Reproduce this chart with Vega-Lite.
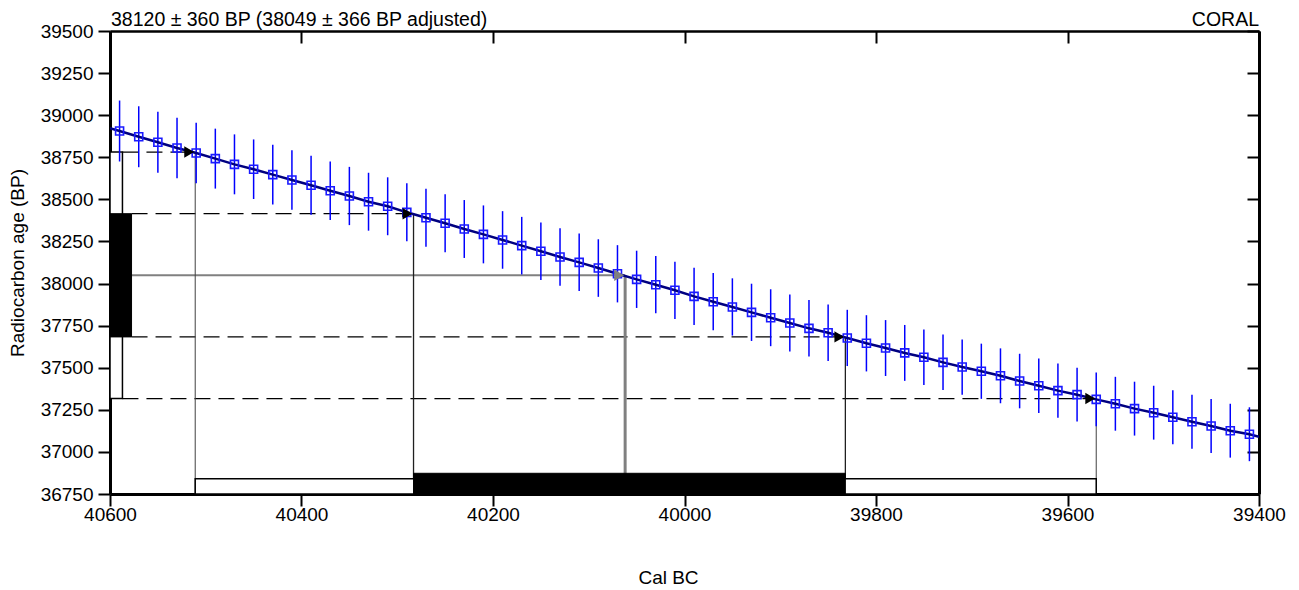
{
 "$schema": "https://vega.github.io/schema/vega-lite/v6.json",
 "width": 1149, "height": 463,
 "autosize": {"type": "none"},
 "padding": {"left": 110, "top": 31, "right": 40, "bottom": 96},
 "background": "white",
 "config": {
  "view": {"stroke": null},
  "font": "Liberation Sans",
  "axis": {"labelFont": "Liberation Sans", "labelFontSize": 19, "labelColor": "black", "titleFont": "Liberation Sans", "titleFontSize": 19, "titleFontWeight": "normal", "titleColor": "black", "tickColor": "black", "tickWidth": 2, "tickSize": 12, "domainColor": "black", "domainWidth": 3, "grid": false, "labelFlush": false, "labelOverlap": false}
 },
 "datasets": {
  "curve": [
   {"cal":40600,"age":38922},
   {"cal":40590,"age":38906,"err":181},{"cal":40570,"age":38872,"err":181},{"cal":40550,"age":38839,"err":181},{"cal":40530,"age":38805,"err":180},{"cal":40510,"age":38775,"err":180},
   {"cal":40490,"age":38742,"err":178},{"cal":40470,"age":38708,"err":178},{"cal":40450,"age":38679,"err":177},{"cal":40430,"age":38647,"err":177},{"cal":40410,"age":38615,"err":176},
   {"cal":40390,"age":38584,"err":175},{"cal":40370,"age":38551,"err":174},{"cal":40350,"age":38520,"err":173},{"cal":40330,"age":38486,"err":172},{"cal":40310,"age":38459,"err":172},
   {"cal":40290,"age":38423,"err":172},{"cal":40270,"age":38391,"err":172},{"cal":40250,"age":38358,"err":172},{"cal":40230,"age":38324,"err":172},{"cal":40210,"age":38292,"err":172},
   {"cal":40190,"age":38259,"err":171},{"cal":40170,"age":38225,"err":171},{"cal":40150,"age":38192,"err":171},{"cal":40130,"age":38158,"err":171},{"cal":40110,"age":38126,"err":171},
   {"cal":40090,"age":38092,"err":171},{"cal":40070,"age":38058,"err":170},{"cal":40050,"age":38025,"err":170},{"cal":40030,"age":37993,"err":170},{"cal":40010,"age":37960,"err":170},
   {"cal":39990,"age":37924,"err":170},{"cal":39970,"age":37892,"err":170},{"cal":39950,"age":37861,"err":170},{"cal":39930,"age":37829,"err":170},{"cal":39910,"age":37797,"err":169},
   {"cal":39890,"age":37766,"err":169},{"cal":39870,"age":37734,"err":168},{"cal":39850,"age":37708,"err":168},{"cal":39830,"age":37677,"err":167},{"cal":39810,"age":37645,"err":167},
   {"cal":39790,"age":37617,"err":166},{"cal":39770,"age":37588,"err":166},{"cal":39750,"age":37562,"err":165},{"cal":39730,"age":37532,"err":165},{"cal":39710,"age":37504,"err":164},
   {"cal":39690,"age":37479,"err":164},{"cal":39670,"age":37452,"err":163},{"cal":39650,"age":37421,"err":162},{"cal":39630,"age":37393,"err":162},{"cal":39610,"age":37364,"err":161},
   {"cal":39590,"age":37340,"err":160},{"cal":39570,"age":37312,"err":160},{"cal":39550,"age":37286,"err":160},{"cal":39530,"age":37257,"err":160},{"cal":39510,"age":37233,"err":160},
   {"cal":39490,"age":37206,"err":160},{"cal":39470,"age":37179,"err":160},{"cal":39450,"age":37154,"err":160},{"cal":39430,"age":37126,"err":160},{"cal":39410,"age":37105,"err":160},
   {"cal":39400,"age":37090}
  ],
  "dashed": [
   {"age":38781,"from":40587,"cal":40511},
   {"age":38415,"from":40577.5,"cal":40283},
   {"age":37683,"from":40577.5,"cal":39832},
   {"age":37317,"from":40587,"cal":39570}
  ],
  "mean": [{"age":38049,"from":40577.5,"cal":40062}],
  "vlines2": [{"cal":40511,"age":38781,"base":36750},{"cal":39570,"age":37317,"base":36750}],
  "vlines1": [{"cal":40283,"age":38415,"base":36750},{"cal":39832,"age":37683,"base":36750}],
  "vmean": [{"cal":40062,"age":38049,"base":36750}],
  "box2": [{"cal":40600,"cal2":40587,"age":37317,"age2":38781},{"cal":40511,"cal2":39570,"age":36750,"age2":36840}],
  "box1": [{"cal":40600,"cal2":40577.5,"age":37683,"age2":38415},{"cal":40283,"cal2":39832,"age":36750,"age2":36873}],
  "lefttext": [{"cal":40600,"age":39500,"text":"38120 ± 360 BP (38049 ± 366 BP adjusted)"}],
  "righttext": [{"cal":39400,"age":39500,"text":"CORAL"}]
 },
 "resolve": {"axis": {"x": "independent", "y": "independent"}},
 "layer": [
  {
   "data": {"name": "dashed"},
   "mark": {"type": "rule", "color": "black", "strokeWidth": 1.2, "strokeDash": [16, 8]},
   "encoding": {
    "x": {"field": "from", "type": "quantitative", "scale": {"domain": [39400, 40600], "reverse": true, "nice": false, "zero": false},
          "axis": {"orient": "top", "values": [40600,40400,40200,40000,39800,39600,39400], "labels": false, "title": null, "tickSize": -12, "domainWidth": 2.5}},
    "x2": {"field": "cal"},
    "y": {"field": "age", "type": "quantitative", "scale": {"domain": [36750, 39500], "nice": false, "zero": false},
          "axis": {"orient": "right", "values": [36750,37000,37250,37500,37750,38000,38250,38500,38750,39000,39250,39500], "labels": false, "title": null, "tickSize": -12, "domainWidth": 3}}
   }
  },
  {
   "data": {"name": "mean"},
   "mark": {"type": "rule", "color": "#808080", "strokeWidth": 2},
   "encoding": {
    "x": {"field": "from", "type": "quantitative", "scale": {"domain": [39400, 40600], "reverse": true, "nice": false, "zero": false}, "axis": null},
    "x2": {"field": "cal"},
    "y": {"field": "age", "type": "quantitative", "scale": {"domain": [36750, 39500], "nice": false, "zero": false}, "axis": null}
   }
  },
  {
   "data": {"name": "vlines2"},
   "mark": {"type": "rule", "color": "#404040", "strokeWidth": 1},
   "encoding": {
    "x": {"field": "cal", "type": "quantitative", "scale": {"domain": [39400, 40600], "reverse": true, "nice": false, "zero": false}, "axis": null},
    "y": {"field": "age", "type": "quantitative", "scale": {"domain": [36750, 39500], "nice": false, "zero": false}, "axis": null},
    "y2": {"field": "base"}
   }
  },
  {
   "data": {"name": "vlines1"},
   "mark": {"type": "rule", "color": "#202020", "strokeWidth": 1.3},
   "encoding": {
    "x": {"field": "cal", "type": "quantitative", "scale": {"domain": [39400, 40600], "reverse": true, "nice": false, "zero": false}, "axis": null},
    "y": {"field": "age", "type": "quantitative", "scale": {"domain": [36750, 39500], "nice": false, "zero": false}, "axis": null},
    "y2": {"field": "base"}
   }
  },
  {
   "data": {"name": "vmean"},
   "mark": {"type": "rule", "color": "#808080", "strokeWidth": 3},
   "encoding": {
    "x": {"field": "cal", "type": "quantitative", "scale": {"domain": [39400, 40600], "reverse": true, "nice": false, "zero": false}, "axis": null},
    "y": {"field": "age", "type": "quantitative", "scale": {"domain": [36750, 39500], "nice": false, "zero": false}, "axis": null},
    "y2": {"field": "base"}
   }
  },
  {
   "data": {"name": "box2"},
   "mark": {"type": "rect", "fill": "white", "stroke": "black", "strokeWidth": 1.5},
   "encoding": {
    "x": {"field": "cal", "type": "quantitative", "scale": {"domain": [39400, 40600], "reverse": true, "nice": false, "zero": false}, "axis": null},
    "x2": {"field": "cal2"},
    "y": {"field": "age", "type": "quantitative", "scale": {"domain": [36750, 39500], "nice": false, "zero": false}, "axis": null},
    "y2": {"field": "age2"}
   }
  },
  {
   "data": {"name": "box1"},
   "mark": {"type": "rect", "fill": "black", "stroke": "black", "strokeWidth": 1},
   "encoding": {
    "x": {"field": "cal", "type": "quantitative", "scale": {"domain": [39400, 40600], "reverse": true, "nice": false, "zero": false}, "axis": null},
    "x2": {"field": "cal2"},
    "y": {"field": "age", "type": "quantitative", "scale": {"domain": [36750, 39500], "nice": false, "zero": false}, "axis": null},
    "y2": {"field": "age2"}
   }
  },
  {
   "data": {"name": "curve"},
   "transform": [{"filter": "isValid(datum.err)"}],
   "mark": {"type": "errorbar", "color": "#0000ff", "thickness": 1.5},
   "encoding": {
    "x": {"field": "cal", "type": "quantitative", "scale": {"domain": [39400, 40600], "reverse": true, "nice": false, "zero": false}, "axis": null},
    "y": {"field": "age", "type": "quantitative", "scale": {"domain": [36750, 39500], "nice": false, "zero": false}, "axis": null},
    "yError": {"field": "err"}
   }
  },
  {
   "data": {"name": "curve"},
   "mark": {"type": "line", "color": "#000080", "strokeWidth": 2.5, "clip": true},
   "encoding": {
    "x": {"field": "cal", "type": "quantitative", "scale": {"domain": [39400, 40600], "reverse": true, "nice": false, "zero": false},
          "axis": {"orient": "bottom", "values": [40600,40400,40200,40000,39800,39600,39400], "format": "d", "title": "Cal BC", "labelPadding": -1, "titlePadding": 44, "titleX": 558}},
    "y": {"field": "age", "type": "quantitative", "scale": {"domain": [36750, 39500], "nice": false, "zero": false},
          "axis": {"orient": "left", "values": [36750,37000,37250,37500,37750,38000,38250,38500,38750,39000,39250,39500], "format": "d", "title": "Radiocarbon age (BP)", "labelPadding": 5, "titlePadding": 13}},
    "order": {"field": "cal", "type": "quantitative"}
   }
  },
  {
   "data": {"name": "curve"},
   "transform": [{"filter": "isValid(datum.err)"}],
   "mark": {"type": "point", "shape": "square", "size": 64, "filled": false, "stroke": "#1a1aff", "strokeWidth": 1.6, "opacity": 1},
   "encoding": {
    "x": {"field": "cal", "type": "quantitative", "scale": {"domain": [39400, 40600], "reverse": true, "nice": false, "zero": false}, "axis": null},
    "y": {"field": "age", "type": "quantitative", "scale": {"domain": [36750, 39500], "nice": false, "zero": false}, "axis": null}
   }
  },
  {
   "data": {"name": "dashed"},
   "mark": {"type": "point", "shape": "triangle-right", "size": 130, "filled": true, "color": "black", "opacity": 1, "xOffset": -6},
   "encoding": {
    "x": {"field": "cal", "type": "quantitative", "scale": {"domain": [39400, 40600], "reverse": true, "nice": false, "zero": false}, "axis": null},
    "y": {"field": "age", "type": "quantitative", "scale": {"domain": [36750, 39500], "nice": false, "zero": false}, "axis": null}
   }
  },
  {
   "data": {"name": "mean"},
   "mark": {"type": "point", "shape": "triangle-right", "size": 130, "filled": true, "color": "#808080", "opacity": 1, "xOffset": -6},
   "encoding": {
    "x": {"field": "cal", "type": "quantitative", "scale": {"domain": [39400, 40600], "reverse": true, "nice": false, "zero": false}, "axis": null},
    "y": {"field": "age", "type": "quantitative", "scale": {"domain": [36750, 39500], "nice": false, "zero": false}, "axis": null}
   }
  },
  {
   "data": {"name": "lefttext"},
   "mark": {"type": "text", "align": "left", "baseline": "alphabetic", "dx": 1, "dy": -5, "fontSize": 19.5, "font": "Liberation Sans", "color": "black"},
   "encoding": {
    "x": {"field": "cal", "type": "quantitative", "scale": {"domain": [39400, 40600], "reverse": true, "nice": false, "zero": false}, "axis": null},
    "y": {"field": "age", "type": "quantitative", "scale": {"domain": [36750, 39500], "nice": false, "zero": false}, "axis": null},
    "text": {"field": "text"}
   }
  },
  {
   "data": {"name": "righttext"},
   "mark": {"type": "text", "align": "right", "baseline": "alphabetic", "dx": 0, "dy": -5, "fontSize": 19.5, "font": "Liberation Sans", "color": "black"},
   "encoding": {
    "x": {"field": "cal", "type": "quantitative", "scale": {"domain": [39400, 40600], "reverse": true, "nice": false, "zero": false}, "axis": null},
    "y": {"field": "age", "type": "quantitative", "scale": {"domain": [36750, 39500], "nice": false, "zero": false}, "axis": null},
    "text": {"field": "text"}
   }
  }
 ]
}
